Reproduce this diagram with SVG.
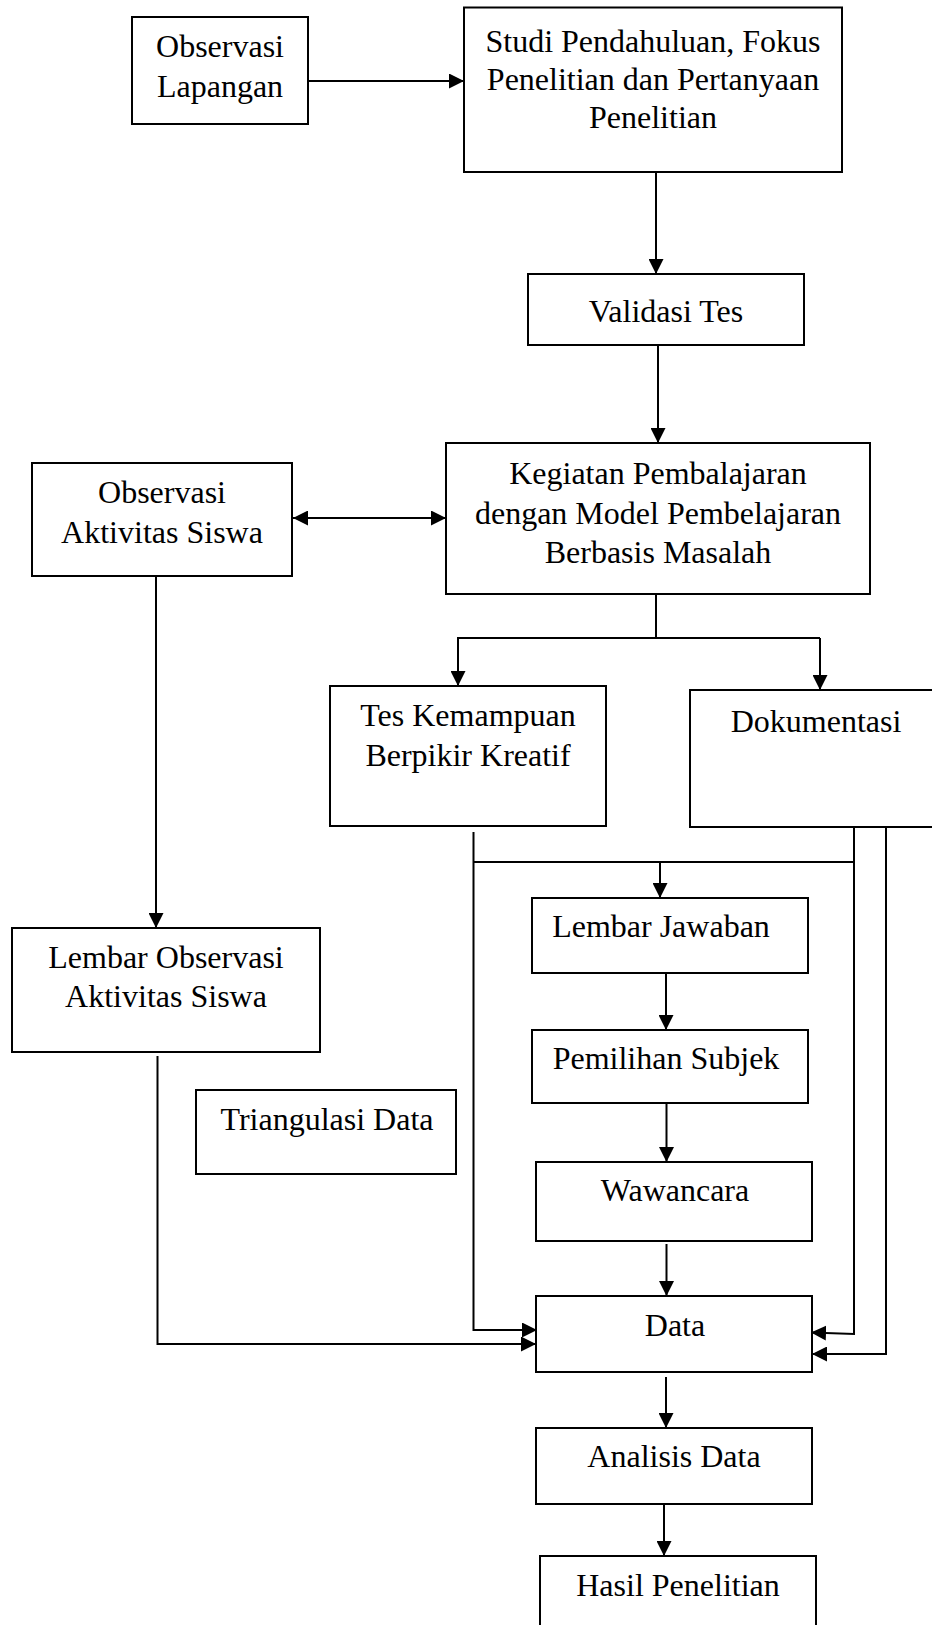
<svg xmlns="http://www.w3.org/2000/svg" width="932" height="1625" viewBox="0 0 932 1625">
<style>
.box{fill:#fff;stroke:#000;stroke-width:2}
.t{font-family:"Liberation Serif","Times New Roman",serif;font-size:32px;fill:#000;text-anchor:middle}
.c{fill:none;stroke:#000;stroke-width:2}
.a{marker-end:url(#ah)}
</style>
<defs>
<marker id="ah" markerWidth="15" markerHeight="15" refX="15" refY="7.5" orient="auto-start-reverse" markerUnits="userSpaceOnUse">
<path d="M0,0 L15,7.5 L0,15 z" fill="#000"/>
</marker>
</defs>
<rect width="932" height="1625" fill="#fff"/>
<g id="connectors">
<path class="c a" d="M308,81 L464,81"/>
<path class="c a" d="M656,172 L656,274"/>
<path class="c a" d="M658,346 L658,443"/>
<path class="c a" d="M293,518 L446,518" marker-start="url(#ah)"/>
<path class="c" d="M656,594 L656,638"/>
<path class="c" d="M457,638 L820,638"/>
<path class="c a" d="M458,638 L458,686"/>
<path class="c a" d="M820,638 L820,690"/>
<path class="c a" d="M156,576 L156,928"/>
<path class="c a" d="M473.5,832 L473.5,1330 L537,1330"/>
<path class="c" d="M474,862 L854,862"/>
<path class="c a" d="M660,862 L660,898"/>
<path class="c a" d="M854,827 L854,1334 L811,1332.5"/>
<path class="c a" d="M886,828 L886,1354 L812,1354"/>
<path class="c a" d="M666,973 L666,1030"/>
<path class="c a" d="M666.5,1103 L666.5,1162"/>
<path class="c a" d="M666.5,1244 L666.5,1296"/>
<path class="c a" d="M157.5,1056 L157.5,1344 L536,1344"/>
<path class="c a" d="M666,1377 L666,1428"/>
<path class="c a" d="M664,1504 L664,1556"/>
</g>
<g id="observasi-lapangan">
<rect class="box" x="132" y="17" width="176" height="107"/>
<text class="t" x="220" y="57">Observasi</text>
<text class="t" x="220" y="97">Lapangan</text>
</g>
<g id="studi-pendahuluan">
<rect class="box" x="464" y="7.5" width="378" height="164.5"/>
<text class="t" x="653" y="52">Studi Pendahuluan, Fokus</text>
<text class="t" x="653" y="90">Penelitian dan Pertanyaan</text>
<text class="t" x="653" y="128">Penelitian</text>
</g>
<g id="validasi-tes">
<rect class="box" x="528" y="274" width="276" height="71"/>
<text class="t" x="666" y="322">Validasi Tes</text>
</g>
<g id="kegiatan-pembelajaran">
<rect class="box" x="446" y="443" width="424" height="151"/>
<text class="t" x="658" y="484">Kegiatan Pembalajaran</text>
<text class="t" x="658" y="523.5">dengan Model Pembelajaran</text>
<text class="t" x="658" y="563">Berbasis Masalah</text>
</g>
<g id="observasi-aktivitas">
<rect class="box" x="32" y="463" width="260" height="113"/>
<text class="t" x="162" y="503">Observasi</text>
<text class="t" x="162" y="543">Aktivitas Siswa</text>
</g>
<g id="tes-kemampuan">
<rect class="box" x="330" y="686" width="276" height="140"/>
<text class="t" x="468" y="726">Tes Kemampuan</text>
<text class="t" x="468" y="766">Berpikir Kreatif</text>
</g>
<g id="dokumentasi">
<rect class="box" x="690" y="690" width="260" height="137"/>
<text class="t" x="816" y="732">Dokumentasi</text>
</g>
<g id="lembar-observasi">
<rect class="box" x="12" y="928" width="308" height="124"/>
<text class="t" x="166" y="968">Lembar Observasi</text>
<text class="t" x="166" y="1007">Aktivitas Siswa</text>
</g>
<g id="triangulasi-data">
<rect class="box" x="196" y="1090" width="260" height="84"/>
<text class="t" x="327" y="1130">Triangulasi Data</text>
</g>
<g id="lembar-jawaban">
<rect class="box" x="532" y="898" width="276" height="75"/>
<text class="t" x="661" y="937">Lembar Jawaban</text>
</g>
<g id="pemilihan-subjek">
<rect class="box" x="532" y="1030" width="276" height="73"/>
<text class="t" x="666" y="1069">Pemilihan Subjek</text>
</g>
<g id="wawancara">
<rect class="box" x="536" y="1162" width="276" height="79"/>
<text class="t" x="675" y="1201">Wawancara</text>
</g>
<g id="data">
<rect class="box" x="536" y="1296" width="276" height="76"/>
<text class="t" x="675" y="1336">Data</text>
</g>
<g id="analisis-data">
<rect class="box" x="536" y="1428" width="276" height="76"/>
<text class="t" x="674" y="1467">Analisis Data</text>
</g>
<g id="hasil-penelitian">
<rect class="box" x="540" y="1556" width="276" height="90"/>
<text class="t" x="678" y="1596">Hasil Penelitian</text>
</g>
</svg>
